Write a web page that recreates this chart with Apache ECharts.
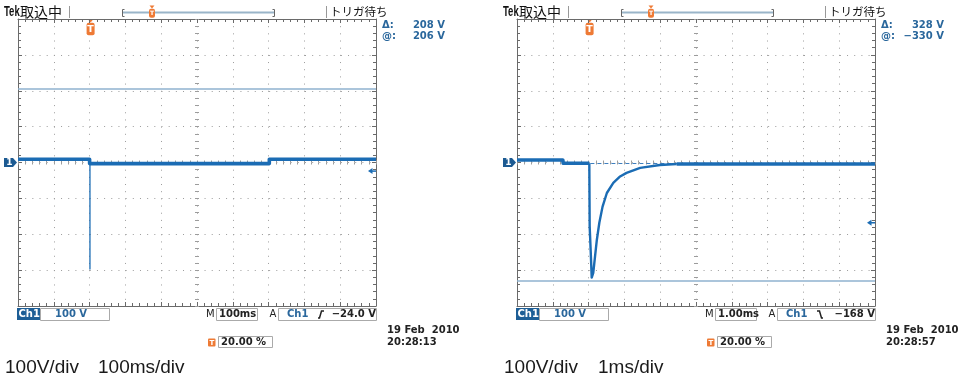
<!DOCTYPE html>
<html><head><meta charset="utf-8">
<script src="https://cdn.jsdelivr.net/npm/echarts@6/dist/echarts.min.js"></script>
<style>html,body{margin:0;padding:0;background:#fff}#c{width:966px;height:387px}</style>
</head><body><div id="c"></div>
<script>
// ---------- data ----------
// Left capture: 100 V/div, 100 ms/div (time in ms, voltage in V)
const leftTraceT = [0, 200, 200, 702, 702, 1000];
const leftTraceV = [9, 9, -3, -3, 9, 9];
const leftSpikeT = [201, 201, 201];
const leftSpikeV = [9, -297, -3];
const leftCursor = 206;
const leftDelta = '208 V', leftAt = '206 V';
const leftTrigPos = 200, leftTrigLevel = -24;
const leftXMax = 1000;

// Right capture: 100 V/div, 1 ms/div (time in ms, voltage in V)
const rightPreT = [0, 1.28, 1.29, 2.02];
const rightPreV = [7, 7, -2, -2];
const rightEventT = [2.02, 2.03, 2.06, 2.087, 2.13, 2.18, 2.23, 2.30, 2.39, 2.51, 2.69, 2.88, 3.06, 3.44, 3.99, 4.46];
const rightEventV = [-2, -178, -250, -321, -308, -262, -216, -168, -123, -85, -57, -39, -29, -15, -7, -4];
const rightTailT = [4.46, 10];
const rightTailV = [-4, -4];
const rightCursor = -330, rightCursor2 = -2;
const rightDelta = '328 V', rightAt = '\u2212330 V';
const rightTrigPos = 2, rightTrigLevel = -168;
const rightXMax = 10;

const yMin = -400, yMax = 400, yStep = 100;

// ---------- styles ----------
const TRACE = '#1b6cb4';
const FRAME = '#6a6a6a';
const DOTS = '#9c9c9c';
const CURSOR = '#8fb2cf';
const TXTBLUE = '#2a679c';
const ORANGE = '#ee7a35';
const MONO = 'DejaVu Sans';

const grids = [
  {left: 18, top: 19, width: 358, height: 287},
  {left: 517, top: 19, width: 358, height: 287}
];

function zip(a, b) { return a.map((v, i) => [v, b[i]]); }

const dotted = {color: DOTS, width: 1, type: [1, 6.175]};
function xAxes(g, xmax) {
  const base = {gridIndex: g, type: 'value', min: 0, max: xmax, interval: xmax / 10,
    axisLabel: {show: false}, minorTick: {show: true, splitNumber: 5, length: 3, lineStyle: {color: FRAME}}};
  return [
    Object.assign({}, base, {position: 'bottom', axisLine: {show: true, onZero: false, lineStyle: {color: FRAME}},
      axisTick: {show: true, inside: true, length: 4, lineStyle: {color: FRAME}},
      splitLine: {show: true, lineStyle: dotted}}),
    Object.assign({}, base, {position: 'top', axisLine: {show: true, onZero: false, lineStyle: {color: FRAME}},
      axisTick: {show: true, inside: true, length: 4, lineStyle: {color: FRAME}}, splitLine: {show: false}}),
    Object.assign({}, base, {position: 'bottom', offset: -143.5, axisLine: {show: false, onZero: false},
      axisTick: {show: true, inside: true, length: 2, lineStyle: {color: DOTS}},
      minorTick: {show: true, splitNumber: 5, length: 2, lineStyle: {color: DOTS}}, splitLine: {show: false}}),
    Object.assign({}, base, {position: 'bottom', offset: -143.5, axisLine: {show: false, onZero: false},
      axisTick: {show: true, inside: false, length: 2, lineStyle: {color: DOTS}},
      minorTick: {show: true, splitNumber: 5, length: 2, lineStyle: {color: DOTS}}, splitLine: {show: false}})
  ];
}
function yAxes(g) {
  const base = {gridIndex: g, type: 'value', min: yMin, max: yMax, interval: yStep,
    axisLabel: {show: false}, minorTick: {show: true, splitNumber: 5, length: 3, lineStyle: {color: FRAME}}};
  return [
    Object.assign({}, base, {position: 'left', axisLine: {show: true, onZero: false, lineStyle: {color: FRAME}},
      axisTick: {show: true, inside: true, length: 4, lineStyle: {color: FRAME}},
      splitLine: {show: true, lineStyle: dotted}}),
    Object.assign({}, base, {position: 'right', axisLine: {show: true, onZero: false, lineStyle: {color: FRAME}},
      axisTick: {show: true, inside: true, length: 4, lineStyle: {color: FRAME}}, splitLine: {show: false}}),
    Object.assign({}, base, {position: 'left', offset: -179, axisLine: {show: false, onZero: false},
      axisTick: {show: true, inside: true, length: 2, lineStyle: {color: DOTS}},
      minorTick: {show: true, splitNumber: 5, length: 2, lineStyle: {color: DOTS}}, splitLine: {show: false}}),
    Object.assign({}, base, {position: 'left', offset: -179, axisLine: {show: false, onZero: false},
      axisTick: {show: true, inside: false, length: 2, lineStyle: {color: DOTS}},
      minorTick: {show: true, splitNumber: 5, length: 2, lineStyle: {color: DOTS}}, splitLine: {show: false}})
  ];
}

function lineSeries(g, data, width, extra) {
  return Object.assign({type: 'line', xAxisIndex: g * 4, yAxisIndex: g * 4, data: data,
    showSymbol: false, symbol: 'none', silent: true, animation: false,
    lineStyle: {color: TRACE, width: width, join: 'round'}, z: 5}, extra || {});
}

const series = [
  lineSeries(0, zip(leftTraceT, leftTraceV), 3.6, {
    markLine: {silent: true, symbol: 'none', label: {show: false}, animation: false,
      lineStyle: {color: CURSOR, width: 1.5, type: 'solid'}, data: [{yAxis: leftCursor}]}}),
  lineSeries(0, zip(leftSpikeT, leftSpikeV), 1.3),
  lineSeries(1, zip(rightPreT, rightPreV), 3.6, {
    markLine: {silent: true, symbol: 'none', label: {show: false}, animation: false,
      data: [
        {yAxis: rightCursor, lineStyle: {color: CURSOR, width: 1.5, type: 'solid'}},
        [{coord: [rightTrigPos + 0.05, rightCursor2], lineStyle: {color: '#3f7fbf', width: 1, type: [4, 3]}},
         {coord: [rightXMax, rightCursor2]}]
      ]}}),
  lineSeries(1, zip(rightEventT, rightEventV), 2.4),
  lineSeries(1, zip(rightTailT, rightTailV), 3.6)
];

const chart = echarts.init(document.getElementById('c'), null, {renderer: 'canvas'});
chart.setOption({
  animation: false,
  backgroundColor: '#fff',
  grid: grids,
  xAxis: [].concat(xAxes(0, leftXMax), xAxes(1, rightXMax)),
  yAxis: [].concat(yAxes(0), yAxes(1)),
  series: series
});

// ---------- decorations ----------
function txt(x, y, text, font, fill, align) {
  return {type: 'text', x: x, y: y, silent: true,
    style: {text: text, font: font, fill: fill || '#222', textAlign: align || 'left', textVerticalAlign: 'middle'}};
}
function tMarker(cx, topY, w, h) {
  return [
    {type: 'polygon', silent: true, shape: {points: [[cx - 2.5, topY], [cx + 2.5, topY], [cx, topY + 3]]}, style: {fill: ORANGE}},
    {type: 'rect', silent: true, shape: {x: cx - w / 2, y: topY + 3.2, width: w, height: h, r: 2}, style: {fill: ORANGE}},
    {type: 'text', silent: true, x: cx, y: topY + 3.2 + h / 2 + 0.5,
      style: {text: 'T', fill: '#fff', font: 'bold ' + (h - 3) + 'px ' + MONO, textAlign: 'center', textVerticalAlign: 'middle'}}
  ];
}

function panel(g, dx, delta, at, trigPos, trigLevel, mText, trigText, edgeRising, date, time, caption2, cap2x) {
  const el = [];
  const conv = (x, y) => chart.convertToPixel({seriesIndex: g === 0 ? 0 : 2}, [x, y]);
  // header
  const tek = txt(4 + dx, 12, 'Tek', 'bold 14px Liberation Sans', '#111');
  tek.scaleX = 0.68; tek.originX = 0; tek.originY = 0;
  el.push(tek);
  el.push(txt(20 + dx, 12, '取込中', '14px "Noto Sans CJK JP"', '#111'));
  el.push({type: 'line', silent: true, shape: {x1: 69.5 + dx, y1: 6, x2: 69.5 + dx, y2: 18}, style: {stroke: '#999', lineWidth: 1}});
  el.push({type: 'line', silent: true, shape: {x1: 123 + dx, y1: 12.5, x2: 274 + dx, y2: 12.5}, style: {stroke: '#9ab5c9', lineWidth: 2}});
  el.push({type: 'polyline', silent: true, shape: {points: [[124.5 + dx, 9.5], [122.5 + dx, 9.5], [122.5 + dx, 16.5], [124.5 + dx, 16.5]]}, style: {stroke: '#666', lineWidth: 1, fill: null}});
  el.push({type: 'polyline', silent: true, shape: {points: [[272.5 + dx, 9.5], [274.5 + dx, 9.5], [274.5 + dx, 16.5], [272.5 + dx, 16.5]]}, style: {stroke: '#666', lineWidth: 1, fill: null}});
  el.push(...tMarker(152 + dx, 5.5, 6, 9));
  el.push({type: 'line', silent: true, shape: {x1: 326.5 + dx, y1: 6, x2: 326.5 + dx, y2: 18}, style: {stroke: '#999', lineWidth: 1}});
  el.push(txt(330 + dx, 12, 'トリガ待ち', '11.5px "Noto Sans CJK JP"', '#111'));
  el.push(txt(382 + dx, 25, 'Δ:', 'bold 10px ' + MONO, TXTBLUE));
  el.push(txt(382 + dx, 36.5, '@:', 'bold 10px ' + MONO, TXTBLUE));
  el.push(txt(445 + dx, 25, delta, 'bold 10px ' + MONO, TXTBLUE, 'right'));
  el.push(txt(445 + dx, 36.5, at, 'bold 10px ' + MONO, TXTBLUE, 'right'));

  // trigger position marker on top edge
  const tp = conv(trigPos, yMax);
  el.push(...tMarker(tp[0] + 1, 19.5, 8, 12.5));
  // ground marker "1"
  const gz = conv(0, 0);
  el.push({type: 'polygon', silent: true, shape: {points: [[4 + dx, gz[1] - 4.5], [13 + dx, gz[1] - 4.5], [17 + dx, gz[1]], [13 + dx, gz[1] + 4.5], [4 + dx, gz[1] + 4.5]]}, style: {fill: '#1c5a92'}});
  el.push(txt(9.5 + dx, gz[1] + 0.5, '1', 'bold 9px ' + MONO, '#fff', 'center'));
  // trigger level arrow on right edge
  const tl = conv(10, trigLevel);
  const rx = grids[g].left + grids[g].width;
  el.push({type: 'polygon', silent: true, shape: {points: [[rx - 8, tl[1]], [rx - 3.5, tl[1] - 3], [rx - 3.5, tl[1] + 3]]}, style: {fill: TRACE}});
  el.push({type: 'line', silent: true, shape: {x1: rx - 4, y1: tl[1], x2: rx, y2: tl[1]}, style: {stroke: TRACE, lineWidth: 1.5}});

  // bottom status line
  el.push({type: 'rect', silent: true, shape: {x: 17 + dx, y: 308, width: 23, height: 12}, style: {fill: '#1d5e96'}});
  el.push(txt(18.5 + dx, 314.5, 'Ch1', 'bold 10px ' + MONO, '#fff'));
  el.push({type: 'rect', silent: true, shape: {x: 40.5 + dx, y: 308.5, width: 69, height: 12}, style: {fill: '#fff', stroke: '#aaa', lineWidth: 1}});
  el.push(txt(55 + dx, 314.5, '100 V', 'bold 10px ' + MONO, TXTBLUE));
  el.push(txt(206 + dx, 314.5, 'M', '10px ' + MONO, '#222'));
  el.push({type: 'rect', silent: true, shape: {x: 216.5 + dx, y: 308.5, width: 41, height: 12}, style: {fill: '#fff', stroke: '#aaa', lineWidth: 1}});
  el.push(txt(219 + dx, 314.5, mText, 'bold 10px ' + MONO, '#222'));
  el.push(txt(269.5 + dx, 314.5, 'A', '10px ' + MONO, '#222'));
  el.push({type: 'rect', silent: true, shape: {x: 278.5 + dx, y: 308.5, width: 98, height: 12}, style: {fill: '#fff', stroke: '#aaa', lineWidth: 1}});
  el.push(txt(287 + dx, 314.5, 'Ch1', 'bold 10px ' + MONO, TXTBLUE));
  const ex = 318 + dx;
  el.push({type: 'polyline', silent: true, shape: {points: edgeRising ?
      [[ex, 318], [ex + 1.5, 318], [ex + 3.5, 311], [ex + 6, 311]] :
      [[ex, 311], [ex + 2.5, 311], [ex + 4.5, 318], [ex + 6, 318]]},
    style: {stroke: '#222', lineWidth: 1.5, fill: null}});
  el.push(txt(376 + dx, 314.5, trigText, 'bold 10px ' + MONO, '#222', 'right'));
  el.push(txt(387 + dx, 330, date, 'bold 10px ' + MONO, '#222'));
  el.push(txt(387 + dx, 342, time, 'bold 10px ' + MONO, '#222'));
  el.push({type: 'rect', silent: true, shape: {x: 208 + dx, y: 338.5, width: 7.5, height: 8, r: 1}, style: {fill: ORANGE}});
  el.push(txt(211.8 + dx, 342.8, 'T', 'bold 7px ' + MONO, '#fff', 'center'));
  el.push({type: 'rect', silent: true, shape: {x: 218.5 + dx, y: 336.5, width: 54, height: 11}, style: {fill: '#fff', stroke: '#aaa', lineWidth: 1}});
  el.push(txt(221 + dx, 342.3, '20.00 %', 'bold 10px ' + MONO, '#222'));
  // caption
  el.push(txt(5 + dx, 368, '100V/div', '19px Liberation Sans', '#1a1a1a'));
  el.push(txt(cap2x, 368, caption2, '19px Liberation Sans', '#1a1a1a'));
  return el;
}

const graphics = [].concat(
  panel(0, 0, leftDelta, leftAt, leftTrigPos, leftTrigLevel, '100ms', '\u221224.0 V', true, '19 Feb  2010', '20:28:13', '100ms/div', 98),
  panel(1, 499, rightDelta, rightAt, rightTrigPos, rightTrigLevel, '1.00ms', '\u2212168 V', false, '19 Feb  2010', '20:28:57', '1ms/div', 598)
);
chart.setOption({graphic: {elements: graphics}});
</script>
</body></html>
